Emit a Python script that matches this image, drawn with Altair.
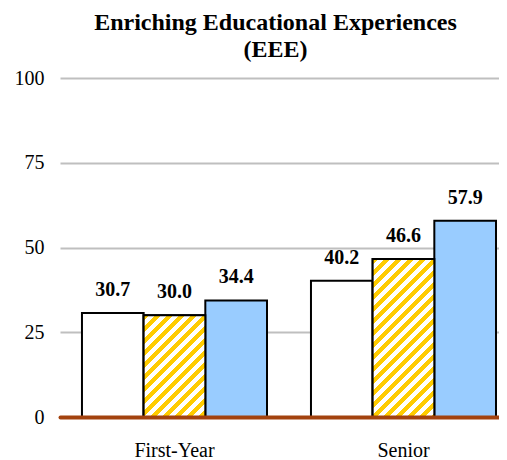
import altair as alt
import pandas as pd

groups = ["First-Year", "First-Year", "First-Year", "Senior", "Senior", "Senior"]
series = ["Institution", "Comparison 1", "Comparison 2", "Institution", "Comparison 1", "Comparison 2"]
values = [30.7, 30.0, 34.4, 40.2, 46.6, 57.9]
series_order = ["Institution", "Comparison 1", "Comparison 2"]
series_colors = ["#FFFFFF", "#FFFFFF", "#99CCFF"]
y_ticks = [0, 25, 50, 75, 100]

df = pd.DataFrame({"group": groups, "series": series, "value": values})
df["label"] = df["value"].map(lambda v: f"{v:.1f}")

PLOT_W = 439
PLOT_H = 339
FONT = "Liberation Serif"
YELLOW = "#FFCC00"

P_IN, P_OUT, ALIGN = 0.192, 0.0545, 0.88
x_scale = alt.Scale(paddingInner=P_IN, paddingOuter=P_OUT, align=ALIGN)
xo_scale = alt.Scale(domain=series_order, paddingInner=0, paddingOuter=0)
y_scale = alt.Scale(domain=[0, 100], nice=False)

bar_w = PLOT_W / (2 - P_IN + 2 * P_OUT) * (1 - P_IN) / 3
px_per_unit = PLOT_H / 100.0


def hatch(value, period=12.0, frac=0.45):
    w = bar_w
    h = value * px_per_unit
    L = w + h
    k = L / (w * w + h * h)
    stops = []
    s = 0.0
    while s < L:
        a = s / L
        b = min((s + period * frac) / L, 1.0)
        c = min((s + period) / L, 1.0)
        stops += [
            {"offset": a, "color": YELLOW},
            {"offset": b, "color": YELLOW},
            {"offset": b, "color": "#FFFFFF"},
            {"offset": c, "color": "#FFFFFF"},
        ]
        s += period
    return {"gradient": "linear", "x1": 0, "y1": 0, "x2": k * w, "y2": k * h, "stops": stops}


base = alt.Chart(df)

x_enc = alt.X("group:N", scale=x_scale, sort=["First-Year", "Senior"],
              axis=alt.Axis(title=None, labelAngle=0, ticks=False, domainColor="#A3420E",
                            domainWidth=4, domainCap="round", labelFont=FONT, labelFontSize=20,
                            labelColor="black", labelPadding=23, zindex=1, grid=False))
xo_enc = alt.XOffset("series:N", scale=xo_scale)
y_enc = alt.Y("value:Q", scale=y_scale,
              axis=alt.Axis(title=None, values=y_ticks, domain=False, ticks=False,
                            gridColor="#BFBFBF", gridWidth=2, labelFont=FONT, labelFontSize=20,
                            labelColor="black", labelPadding=16, minExtent=52))

bars = base.mark_bar(stroke="black", strokeWidth=2).encode(
    x=x_enc, xOffset=xo_enc, y=y_enc,
    fill=alt.Fill("series:N", scale=alt.Scale(domain=series_order, range=series_colors), legend=None),
)

layers = [bars]
for g in ["First-Year", "Senior"]:
    v = df[(df.group == g) & (df.series == "Comparison 1")]["value"].iloc[0]
    layers.append(
        base.transform_filter(
            (alt.datum.group == g) & (alt.datum.series == "Comparison 1")
        ).mark_bar(stroke="black", strokeWidth=2, fill=hatch(v)).encode(
            x=alt.X("group:N"), xOffset=alt.XOffset("series:N"), y=alt.Y("value:Q")
        )
    )

labels = base.mark_text(font=FONT, fontSize=20, fontWeight="bold", baseline="alphabetic",
                        dy=-17, color="black").encode(
    x=alt.X("group:N"), xOffset=alt.XOffset("series:N"), y=alt.Y("value:Q"), text="label:N"
)
layers.append(labels)

chart = alt.layer(*layers).properties(
    width=PLOT_W,
    height=PLOT_H,
    padding={"left": 0, "top": 3, "right": 0, "bottom": 0},
    title=alt.TitleParams(
        text=["Enriching Educational Experiences", "(EEE)"],
        font=FONT, fontSize=24, fontWeight="bold", color="black",
        anchor="middle", lineHeight=27, offset=6, dx=-4,
    ),
).configure_view(stroke=None)

chart.save("out.html", embed_options={"renderer": "svg", "actions": False})
